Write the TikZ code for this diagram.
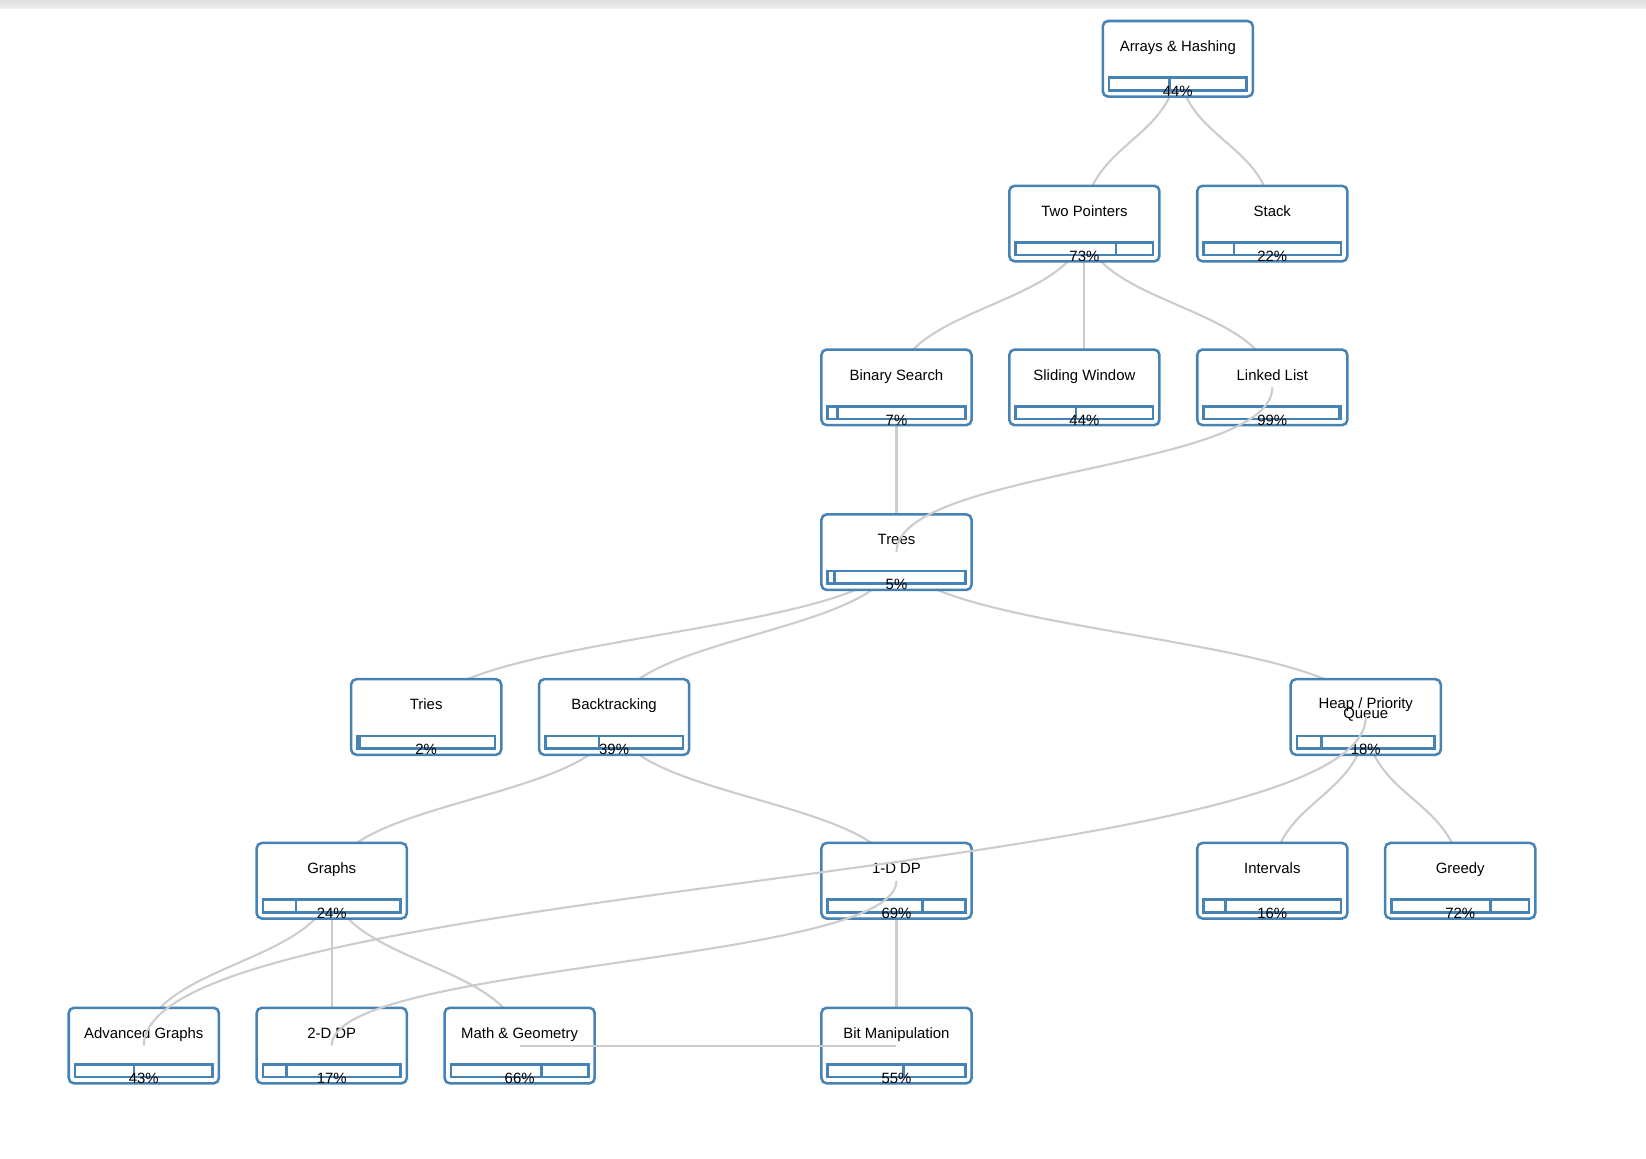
\documentclass[tikz,border=0pt]{standalone}
\usepackage{fontspec}
\setmainfont{Liberation Sans}
\usetikzlibrary{calc}
\definecolor{nodeblue}{RGB}{70,130,180}
\definecolor{edgegray}{RGB}{204,204,204}
\pgfdeclarelayer{bg}
\pgfsetlayers{bg,main}
\tikzset{
  skillbox/.style={draw=nodeblue, line width=2.4pt, fill=white, rounded corners=5pt,
    minimum width=143pt, minimum height=72pt, inner sep=0pt, outer sep=0pt},
  barbox/.style={draw=nodeblue, line width=2.4pt, fill=white,
    minimum width=131pt, minimum height=12pt, inner sep=0pt, outer sep=0pt},
  barfill/.style={draw=nodeblue, line width=2.4pt},
  skilltext/.style={font=\fontsize{14.2}{16}\selectfont, inner sep=0pt, anchor=base},
  edge/.style={draw=edgegray, line width=2pt},
}
% name, cx, top, label, fraction, percent text
\newcommand\skill[6]{%
  \node[skillbox] (#1) at (#2,#3+36) {};
  \node[skilltext] (#1-t) at (#2,#3+29) {#4};
  \node[barbox] (#1-b) at (#2,#3+60) {};
  \draw[barfill] (#1-b.north west) rectangle ($(#1-b.south west)!#5!(#1-b.south east)$);
  \node[skilltext] (#1-p) at (#2,#3+72) {#6\%};
}
\newcommand\skillbare[5]{%
  \node[skillbox] (#1) at (#2,#3+36) {};
  \node[barbox] (#1-b) at (#2,#3+60) {};
  \draw[barfill] (#1-b.north west) rectangle ($(#1-b.south west)!#4!(#1-b.south east)$);
  \node[skilltext] (#1-p) at (#2,#3+72) {#5\%};
}
\newcommand\vlink[2]{%
  \path ($(#1.center)!0.5!(#2.center)$) coordinate (m-#1-#2);
  \draw[edge] (#1.center) .. controls (#1.center |- m-#1-#2) and (#2.center |- m-#1-#2) .. (#2.center);
}
\begin{document}
\begin{tikzpicture}[x=1pt,y=-1pt]
\useasboundingbox (0,0) rectangle (1568,1104);
\shade[top color=gray!25, bottom color=gray!12] (0,0) rectangle (1568,8);

\skill{arr}{1122}{20}{Arrays \& Hashing}{0.44}{44}
\skill{two}{1033}{177}{Two Pointers}{0.73}{73}
\skill{stack}{1212}{177}{Stack}{0.22}{22}
\skill{bin}{854}{333}{Binary Search}{0.07}{7}
\skill{slide}{1033}{333}{Sliding Window}{0.44}{44}
\skill{ll}{1212}{333}{Linked List}{0.99}{99}
\skill{trees}{854}{490}{Trees}{0.05}{5}
\skill{tries}{406}{647}{Tries}{0.02}{2}
\skill{back}{585}{647}{Backtracking}{0.39}{39}
\skillbare{heap}{1301}{647}{0.18}{18}
\node[skilltext] (heap-t1) at (1301,675) {Heap / Priority};
\node[skilltext] (heap-t2) at (1301,684) {Queue};
\skill{graphs}{316}{803}{Graphs}{0.24}{24}
\skill{dp1}{854}{803}{1-D DP}{0.69}{69}
\skill{intervals}{1212}{803}{Intervals}{0.16}{16}
\skill{greedy}{1391}{803}{Greedy}{0.72}{72}
\skill{adv}{137}{960}{Advanced Graphs}{0.43}{43}
\skill{dp2}{316}{960}{2-D DP}{0.17}{17}
\skill{math}{495}{960}{Math \& Geometry}{0.66}{66}
\skill{bit}{854}{960}{Bit Manipulation}{0.55}{55}

\begin{pgfonlayer}{bg}
\vlink{arr}{two}
\vlink{arr}{stack}
\vlink{two}{bin}
\vlink{two}{slide}
\vlink{two}{ll}
\vlink{bin}{trees}
\vlink{trees}{tries}
\vlink{trees}{back}
\vlink{trees}{heap}
\vlink{back}{graphs}
\vlink{back}{dp1}
\vlink{heap}{intervals}
\vlink{heap}{greedy}
\vlink{graphs}{adv}
\vlink{graphs}{dp2}
\vlink{graphs}{math}
\vlink{dp1}{bit}
\end{pgfonlayer}

\vlink{ll}{trees}
\vlink{heap}{adv}
\vlink{dp1}{dp2}
\vlink{math}{bit}
\end{tikzpicture}
\end{document}
